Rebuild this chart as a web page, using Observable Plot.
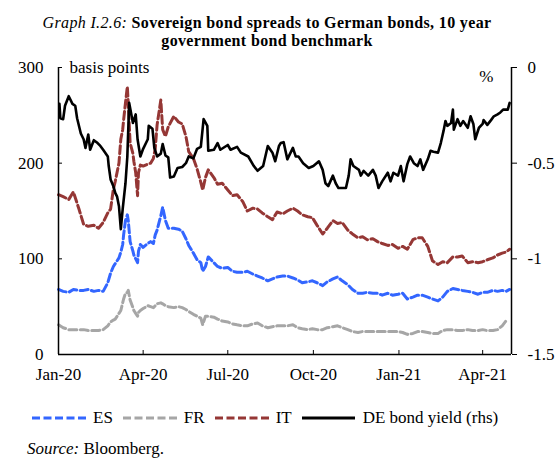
<!DOCTYPE html>
<html><head><meta charset="utf-8">
<script src="https://cdn.jsdelivr.net/npm/d3@7"></script>
<script src="https://cdn.jsdelivr.net/npm/@observablehq/plot@0.6"></script>
<style>
body{margin:0;background:#fff}
#wrap{position:relative;width:558px;height:459px;font-family:"Liberation Serif","Times New Roman",serif;color:#000;background:#fff;overflow:hidden}
#chart{position:absolute;left:0;top:0}
#title{position:absolute;left:0;top:14px;width:534px;text-align:center;font-size:16px;line-height:18px;letter-spacing:0.35px}
#legend{position:absolute;left:32px;top:408px;height:20px;display:flex;align-items:center;font-size:17px;line-height:20px;white-space:nowrap}
.item{display:flex;align-items:center;margin-right:10px}
.item svg{margin-right:6px;display:block}
#source{position:absolute;left:27px;top:440px;font-size:17px;line-height:17px;white-space:nowrap}
</style></head><body>
<div id="wrap">
<div id="chart"></div>
<div id="title"><i>Graph I.2.6:</i> <b>Sovereign bond spreads to German bonds, 10 year<br>government bond benchmark</b></div>
<div id="legend"></div>
<div id="source"><i>Source:</i> Bloomberg.</div>
</div>
<script>
// ---- data ----
const seriesNames = ["ES", "FR", "IT", "DE bond yield (rhs)"];
const seriesColors = ["#3366ff", "#a6a6a6", "#953735", "#000000"];
const yLabelLeft = "basis points";
const yLabelRight = "%";
const xTickDates = ["2020-01-01","2020-04-01","2020-07-01","2020-10-01","2021-01-01","2021-04-01"];
const leftTicks = [0, 100, 200, 300];
const rightTicks = [0, -0.5, -1, -1.5];

const spreadDates = ["2020-01-01","2020-01-06","2020-01-12","2020-01-17","2020-01-23","2020-01-28","2020-02-02","2020-02-08","2020-02-13","2020-02-18","2020-02-23","2020-02-26","2020-02-29","2020-03-02","2020-03-06","2020-03-08","2020-03-10","2020-03-11","2020-03-13","2020-03-15","2020-03-16","2020-03-18","2020-03-21","2020-03-22","2020-03-24","2020-03-26","2020-03-27","2020-03-29","2020-04-01","2020-04-06","2020-04-09","2020-04-12","2020-04-14","2020-04-16","2020-04-20","2020-04-22","2020-04-25","2020-04-28","2020-05-04","2020-05-09","2020-05-13","2020-05-17","2020-05-20","2020-05-25","2020-05-29","2020-06-02","2020-06-04","2020-06-07","2020-06-10","2020-06-16","2020-06-20","2020-06-25","2020-07-01","2020-07-06","2020-07-11","2020-07-17","2020-07-22","2020-07-28","2020-08-02","2020-08-07","2020-08-13","2020-08-18","2020-08-23","2020-08-29","2020-09-03","2020-09-09","2020-09-14","2020-09-19","2020-09-25","2020-09-30","2020-10-05","2020-10-11","2020-10-16","2020-10-22","2020-10-27","2020-11-01","2020-11-07","2020-11-12","2020-11-18","2020-11-23","2020-11-28","2020-12-04","2020-12-09","2020-12-14","2020-12-20","2020-12-25","2020-12-31","2021-01-05","2021-01-10","2021-01-16","2021-01-21","2021-01-26","2021-02-01","2021-02-06","2021-02-12","2021-02-17","2021-02-22","2021-02-28","2021-03-05","2021-03-10","2021-03-16","2021-03-21","2021-03-27","2021-04-01","2021-04-06","2021-04-12","2021-04-17","2021-04-22","2021-04-26","2021-04-30"];
const esSpread = [68,66,65,68,67,67,68,66,67,66,75,85,92,95,101,107,115,125,140,146,140,118,108,104,100,96,108,115,112,116,118,116,125,130,145,154,140,132,132,131,129,121,114,106,99,96,87,92,102,96,92,90,91,87,86,86,87,84,82,80,77,79,81,82,82,80,78,75,76,77,75,72,76,79,81,77,73,68,64,64,65,64,64,62,64,62,63,64,58,60,62,62,60,58,56,60,66,69,68,67,66,65,63,65,65,67,66,67,66,68];
const frSpread = [31,28,26,26,26,26,25,25,25,26,30,34,36,37,43,46,54,58,64,65,67,57,49,46,43,40,44,46,48,51,50,49,51,53,54,53,51,50,49,50,49,47,45,42,40,38,31,40,40,39,37,35,34,32,31,30,30,32,33,30,28,29,30,30,30,31,28,27,26,27,26,26,28,29,30,28,26,24,23,24,24,24,24,24,24,24,24,23,21,22,24,24,23,22,22,25,26,26,25,25,26,25,25,26,25,25,26,30,35,null];
const itSpread = [167,165,162,170,152,136,134,135,132,138,148,152,173,181,200,225,235,245,263,280,262,221,210,202,190,166,190,198,197,199,200,205,215,240,266,235,228,238,249,243,241,228,212,205,194,180,172,185,193,185,178,179,172,166,167,160,150,153,152,148,144,141,149,147,150,153,150,146,144,143,135,126,132,140,137,138,130,126,122,123,120,121,118,116,114,115,111,113,110,120,122,122,113,98,94,97,96,102,102,103,96,97,96,97,99,101,104,106,107,110];

const deDates = ["2020-01-02","2020-01-03","2020-01-06","2020-01-08","2020-01-12","2020-01-16","2020-01-19","2020-01-21","2020-01-25","2020-01-28","2020-01-30","2020-02-02","2020-02-04","2020-02-08","2020-02-12","2020-02-15","2020-02-18","2020-02-23","2020-02-24","2020-02-26","2020-02-29","2020-03-02","2020-03-04","2020-03-06","2020-03-08","2020-03-10","2020-03-13","2020-03-15","2020-03-17","2020-03-21","2020-03-24","2020-03-26","2020-03-29","2020-04-01","2020-04-06","2020-04-07","2020-04-11","2020-04-13","2020-04-16","2020-04-20","2020-04-22","2020-04-25","2020-04-28","2020-04-30","2020-05-04","2020-05-08","2020-05-13","2020-05-17","2020-05-20","2020-05-25","2020-05-29","2020-06-02","2020-06-05","2020-06-09","2020-06-10","2020-06-16","2020-06-20","2020-06-23","2020-07-01","2020-07-04","2020-07-11","2020-07-15","2020-07-23","2020-07-29","2020-08-02","2020-08-08","2020-08-13","2020-08-18","2020-08-21","2020-08-25","2020-08-27","2020-08-30","2020-09-03","2020-09-09","2020-09-12","2020-09-15","2020-09-20","2020-09-26","2020-10-01","2020-10-07","2020-10-11","2020-10-14","2020-10-17","2020-10-22","2020-10-25","2020-10-28","2020-11-05","2020-11-08","2020-11-10","2020-11-13","2020-11-19","2020-11-21","2020-11-24","2020-11-29","2020-12-04","2020-12-07","2020-12-10","2020-12-14","2020-12-20","2020-12-23","2020-12-26","2020-12-31","2021-01-03","2021-01-06","2021-01-10","2021-01-13","2021-01-17","2021-01-21","2021-01-24","2021-01-27","2021-02-01","2021-02-04","2021-02-07","2021-02-12","2021-02-15","2021-02-18","2021-02-20","2021-02-22","2021-02-26","2021-02-28","2021-03-01","2021-03-05","2021-03-08","2021-03-11","2021-03-16","2021-03-19","2021-03-22","2021-03-24","2021-03-28","2021-04-01","2021-04-02","2021-04-06","2021-04-10","2021-04-13","2021-04-17","2021-04-20","2021-04-23","2021-04-28","2021-04-30"];
const deYield = [-0.19,-0.265,-0.27,-0.20,-0.15,-0.19,-0.20,-0.265,-0.345,-0.375,-0.42,-0.35,-0.43,-0.38,-0.395,-0.41,-0.43,-0.465,-0.515,-0.585,-0.62,-0.655,-0.675,-0.725,-0.845,-0.74,-0.605,-0.465,-0.185,-0.29,-0.245,-0.375,-0.465,-0.425,-0.375,-0.305,-0.32,-0.42,-0.465,-0.45,-0.40,-0.46,-0.47,-0.575,-0.57,-0.525,-0.52,-0.50,-0.465,-0.475,-0.425,-0.415,-0.27,-0.305,-0.435,-0.43,-0.395,-0.43,-0.405,-0.43,-0.415,-0.445,-0.465,-0.515,-0.54,-0.515,-0.41,-0.445,-0.49,-0.41,-0.395,-0.39,-0.48,-0.42,-0.465,-0.465,-0.50,-0.525,-0.515,-0.49,-0.535,-0.605,-0.62,-0.565,-0.605,-0.63,-0.63,-0.565,-0.48,-0.515,-0.535,-0.565,-0.54,-0.565,-0.535,-0.565,-0.63,-0.595,-0.55,-0.595,-0.55,-0.565,-0.515,-0.595,-0.505,-0.465,-0.50,-0.515,-0.48,-0.535,-0.48,-0.435,-0.44,-0.445,-0.395,-0.33,-0.28,-0.305,-0.29,-0.22,-0.325,-0.27,-0.305,-0.28,-0.315,-0.255,-0.295,-0.375,-0.315,-0.295,-0.275,-0.30,-0.275,-0.255,-0.245,-0.235,-0.22,-0.22,-0.185];

// ---- build ----
const parse = d3.utcParse("%Y-%m-%d");
const xDomain = [parse("2020-01-01"), parse("2021-05-02")];
const toLeft = v => (v + 1.5) * 200;
const rows = spreadDates.map((d, i) => ({date: parse(d), ES: esSpread[i], FR: frSpread[i], IT: itSpread[i]}));
const deRows = deDates.map((d, i) => ({date: parse(d), v: deYield[i]}));
const dash = "8,3.5";
const fmtMonth = d3.utcFormat("%b-%y");

const chart = Plot.plot({
  width: 558, height: 400,
  marginTop: 67, marginBottom: 46, marginLeft: 58, marginRight: 47,
  style: {fontFamily: "'Liberation Serif','Times New Roman',serif", fontSize: "17px", color: "#000", background: "transparent"},
  x: {type: "utc", domain: xDomain},
  y: {domain: [0, 300]},
  marks: [
    Plot.lineY(rows, {x: "date", y: "ES", stroke: seriesColors[0], strokeWidth: 3, strokeDasharray: dash}),
    Plot.lineY(rows, {x: "date", y: "FR", stroke: seriesColors[1], strokeWidth: 3, strokeDasharray: dash}),
    Plot.lineY(rows, {x: "date", y: "IT", stroke: seriesColors[2], strokeWidth: 3, strokeDasharray: dash}),
    Plot.lineY(deRows, {x: "date", y: d => toLeft(d.v), stroke: seriesColors[3], strokeWidth: 2.6}),
    Plot.ruleY([0], {stroke: "#000", strokeWidth: 1.5}),
    Plot.ruleX(xDomain, {stroke: "#000", strokeWidth: 1.5}),
    Plot.axisX(xTickDates.map(parse), {anchor: "bottom", tickSize: -4, tickPadding: 17, tickFormat: fmtMonth, label: null, stroke: "#000"}),
    Plot.axisY(leftTicks, {anchor: "left", tickSize: -4, tickPadding: 19, label: null, stroke: "#000"}),
    Plot.axisY(rightTicks.map(toLeft), {anchor: "right", tickSize: 5, tickPadding: 11, label: null, stroke: "#000",
      tickFormat: d => String(Math.round((d / 200 - 1.5) * 10) / 10)}),
    Plot.text([yLabelLeft], {text: d => d, frameAnchor: "top-left", dx: 11, dy: 5, lineAnchor: "bottom", textAnchor: "start", fontSize: 17}),
    Plot.text([yLabelRight], {text: d => d, frameAnchor: "top-right", dx: -18, dy: 14, lineAnchor: "bottom", textAnchor: "end", fontSize: 17})
  ]
});
document.getElementById("chart").appendChild(chart);

// legend
const legend = document.getElementById("legend");
seriesNames.forEach((name, i) => {
  const item = document.createElement("div");
  item.className = "item";
  const solid = i === 3;
  item.innerHTML = `<svg width="55" height="10"><line x1="0" y1="5" x2="${solid ? 53 : 55}" y2="5" stroke="${seriesColors[i]}" stroke-width="3" ${solid ? "" : `stroke-dasharray="${dash}"`}/></svg><span>${name}</span>`;
  legend.appendChild(item);
});
</script>
</body></html>
